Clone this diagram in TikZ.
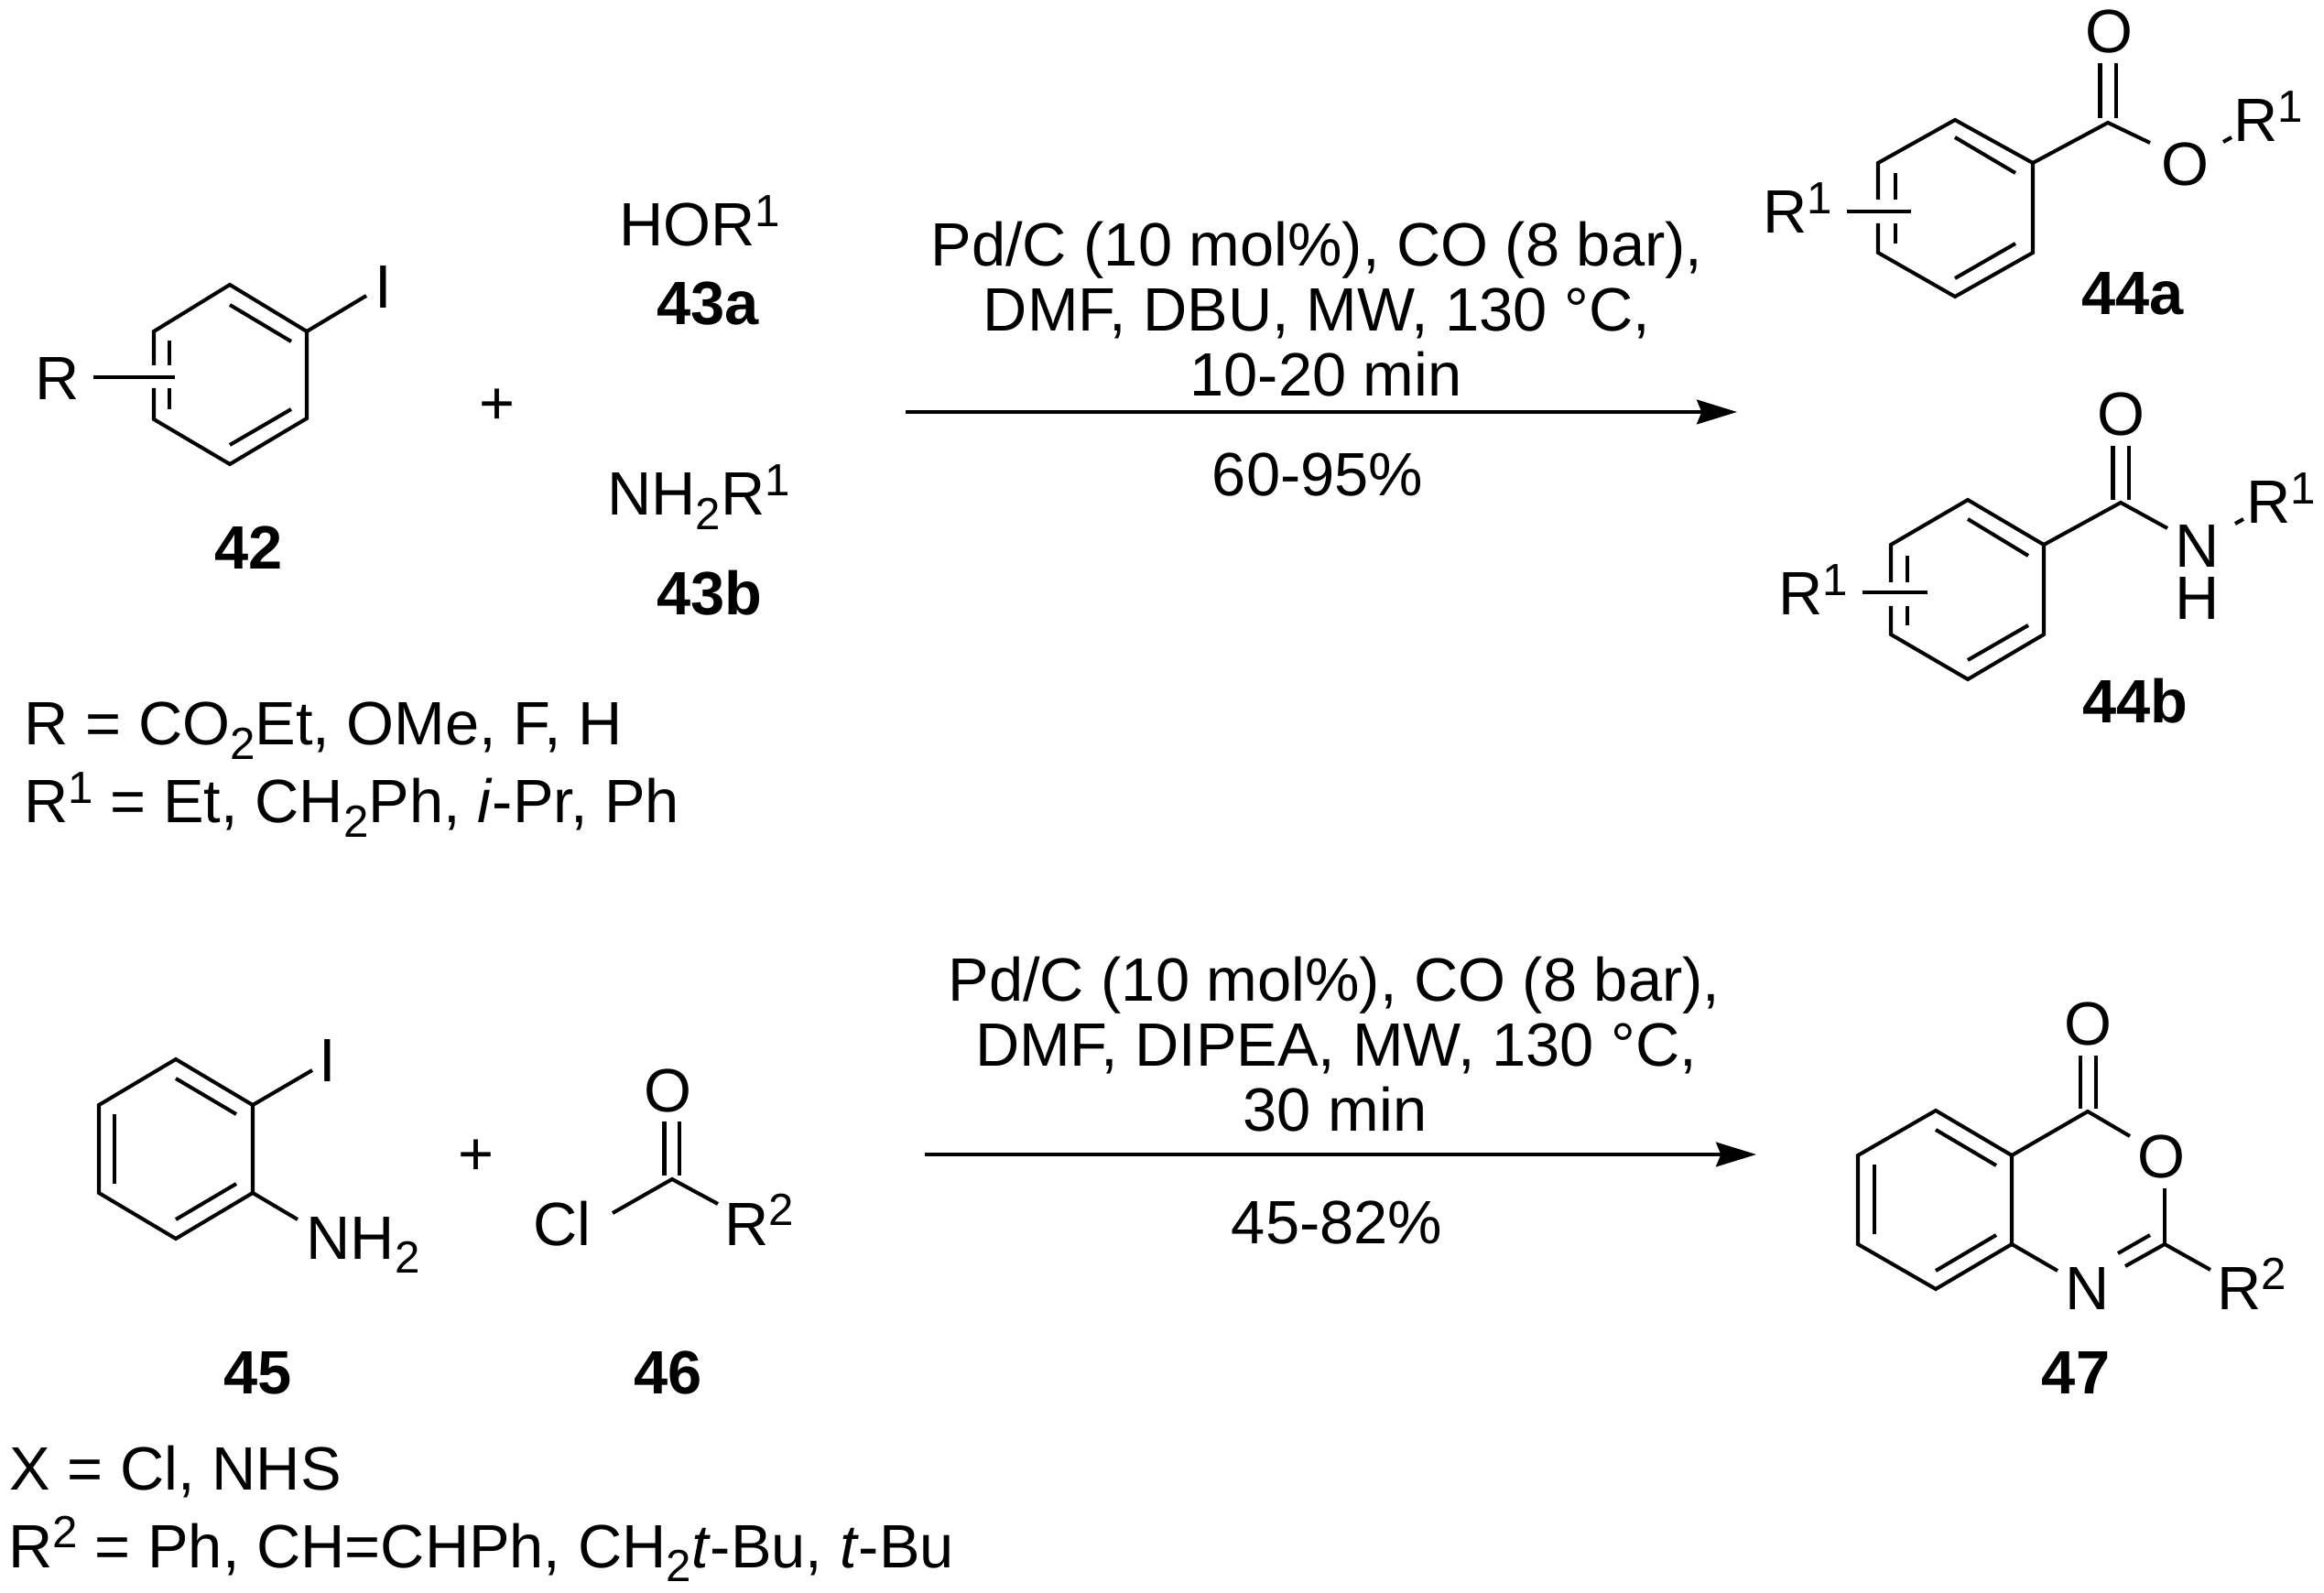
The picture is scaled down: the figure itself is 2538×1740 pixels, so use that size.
\documentclass[tikz,border=0pt]{standalone}
\usepackage{fontspec}
\setmainfont{Liberation Sans}
\usetikzlibrary{arrows.meta}
\newcommand{\supr}[1]{\raisebox{6pt}{\fontsize{14}{14}\selectfont #1}}
\newcommand{\subr}[1]{\raisebox{-4.3pt}{\fontsize{14}{14}\selectfont #1}}
\tikzset{
    bond/.style={line width=1.15pt},
    rxnarrow/.style={line width=1pt,-{Stealth[length=12.5pt,width=7.6pt,inset=1.5pt]}},
    atom/.style={inner sep=0pt,anchor=base,font=\fontsize{19}{20.2}\selectfont},
    atomleft/.style={atom,anchor=base west},
    cpd/.style={atom,font=\fontsize{19}{20.2}\selectfont\bfseries},
}
\begin{document}
\begin{tikzpicture}[x=0.01cm,y=-0.01cm]
    \useasboundingbox (0,0) rectangle (2538,1740);
    % 42
    \draw[bond] (168,399) -- (168,362) -- (251,311) -- (335,362) -- (335,457) -- (251,507) -- (168,458) -- (168,424);
    \draw[bond] (251,333) -- (318,373);
    \draw[bond] (251,486) -- (318,447);
    \draw[bond] (185,372) -- (185,399);
    \draw[bond] (185,424) -- (185,447);
    \draw[bond] (102,412) -- (191,412);
    \draw[bond] (335,362) -- (400,323);
    \node[atom] (r42) at (63,437) {R};
    \node[atom] (i42) at (419,337) {I};
    \node[cpd] (c42) at (272,622) {42};
    \node[atom] (plusa) at (543,464) {+};
    % 43
    \node[atom] (hor) at (764,269) {HOR\supr{1}};
    \node[cpd] (c43a) at (773,355) {43a};
    \node[atom] (nhr) at (763,563) {NH\subr{2}R\supr{1}};
    \node[cpd] (c43b) at (775,672) {43b};
    % conditions of the first reaction
    \node[atom] (conda1) at (1438,291) {Pd/C (10 mol\%), CO (8 bar),};
    \node[atom] (conda2) at (1438,362) {DMF, DBU, MW, 130 °C,};
    \node[atom] (conda3) at (1448,433) {10-20 min};
    \coordinate (arrowa1) at (989,450);
    \coordinate (arrowa2) at (1897,450);
    \draw[rxnarrow] (arrowa1) -- (arrowa2);
    \node[atom] (yielda) at (1439,542) {60-95\%};
    % 44a
    \draw[bond] (2051,218) -- (2051,178) -- (2135,131) -- (2220,178) -- (2220,276) -- (2135,324) -- (2051,276) -- (2051,244);
    \draw[bond] (2135,150) -- (2201,189);
    \draw[bond] (2135,304) -- (2201,266);
    \draw[bond] (2070,189) -- (2070,218);
    \draw[bond] (2070,244) -- (2070,266);
    \draw[bond] (2017,231) -- (2087,231);
    \draw[bond] (2220,178) -- (2302,134) -- (2348,156);
    \draw[bond] (2293.5,69) -- (2293.5,129);
    \draw[bond] (2311,69) -- (2311,129);
    \draw[bond] (2428,155) -- (2437,150);
    \node[atomleft] (r44a) at (1925,255) {R\supr{1}};
    \node[atom] (o44a) at (2303,58) {O};
    \node[atom] (oe44a) at (2386,203) {O};
    \node[atomleft] (rr44a) at (2439,155) {R\supr{1}};
    \node[cpd] (c44a) at (2329,344) {44a};
    % 44b
    \draw[bond] (2065,636) -- (2065,595) -- (2149,546) -- (2232,595) -- (2232,693) -- (2149,742) -- (2065,693) -- (2065,662);
    \draw[bond] (2149,567) -- (2215,607);
    \draw[bond] (2149,721) -- (2215,683);
    \draw[bond] (2083,607) -- (2083,636);
    \draw[bond] (2083,662) -- (2083,683);
    \draw[bond] (2034,647) -- (2105,647);
    \draw[bond] (2232,595) -- (2316,549) -- (2367,577);
    \draw[bond] (2307.5,487) -- (2307.5,546);
    \draw[bond] (2325,487) -- (2325,546);
    \draw[bond] (2441,572) -- (2450,567);
    \node[atomleft] (r44b) at (1942,672) {R\supr{1}};
    \node[atom] (o44b) at (2316,476) {O};
    \node[atom] (n44b) at (2400,620) {N};
    \node[atom] (h44b) at (2400,677) {H};
    \node[atomleft] (rr44b) at (2453,572) {R\supr{1}};
    \node[cpd] (c44b) at (2332,790) {44b};
    % substituents of the first reaction
    \node[atomleft] (suba1) at (26,814) {R = CO\subr{2}Et, OMe, F, H};
    \node[atomleft] (suba2) at (26,899) {R\supr{1} = Et, CH\subr{2}Ph, \textit{i}-Pr, Ph};
    % 45
    \draw[bond] (192,1157) -- (276,1207) -- (276,1303) -- (192,1353) -- (108,1303) -- (108,1207) -- cycle;
    \draw[bond] (192,1178) -- (258,1217);
    \draw[bond] (125,1217) -- (125,1293);
    \draw[bond] (192,1332) -- (258,1293);
    \draw[bond] (276,1207) -- (341,1169);
    \draw[bond] (276,1303) -- (325,1332);
    \node[atom] (i45) at (358,1182) {I};
    \node[atomleft] (nh45) at (334,1375) {NH\subr{2}};
    \node[cpd] (c45) at (282,1522) {45};
    \node[atom] (plusb) at (520,1284) {+};
    % 46
    \draw[bond] (669,1325) -- (734,1288) -- (784,1315);
    \draw[bond] (725.5,1225) -- (725.5,1284);
    \draw[bond] (742,1225) -- (742,1284);
    \node[atom] (o46) at (729,1215) {O};
    \node[atom] (cl46) at (614,1360) {Cl};
    \node[atomleft] (r46) at (791,1360) {R\supr{2}};
    \node[cpd] (c46) at (730,1522) {46};
    % conditions of the second reaction
    \node[atom] (condb1) at (1457,1094) {Pd/C (10 mol\%), CO (8 bar),};
    \node[atom] (condb2) at (1459,1165) {DMF, DIPEA, MW, 130 °C,};
    \node[atom] (condb3) at (1458,1236) {30 min};
    \coordinate (arrowb1) at (1010,1261);
    \coordinate (arrowb2) at (1918,1261);
    \draw[rxnarrow] (arrowb1) -- (arrowb2);
    \node[atom] (yieldb) at (1460,1359) {45-82\%};
    % 47
    \draw[bond] (2114,1213) -- (2197,1262) -- (2197,1359) -- (2114,1408) -- (2029,1359) -- (2029,1262) -- cycle;
    \draw[bond] (2114,1234) -- (2180,1273);
    \draw[bond] (2047,1272) -- (2047,1348);
    \draw[bond] (2114,1388) -- (2180,1349);
    \draw[bond] (2197,1262) -- (2280,1214) -- (2326,1241);
    \draw[bond] (2272,1153) -- (2272,1211);
    \draw[bond] (2289,1153) -- (2289,1211);
    \draw[bond] (2364,1298) -- (2364,1359);
    \draw[bond] (2321,1383) -- (2364,1359) -- (2414,1387);
    \draw[bond] (2313,1369) -- (2348,1349);
    \draw[bond] (2197,1359) -- (2247,1388);
    \node[atom] (o47) at (2280,1142) {O};
    \node[atom] (oe47) at (2360,1287) {O};
    \node[atom] (n47) at (2280,1430) {N};
    \node[atomleft] (r47) at (2421,1430) {R\supr{2}};
    \node[cpd] (c47) at (2267,1522) {47};
    % substituents of the second reaction
    \node[atomleft] (subb1) at (10,1627) {X = Cl, NHS};
    \node[atomleft] (subb2) at (9,1712) {R\supr{2} = Ph, CH=CHPh, CH\subr{2}\textit{t}-Bu, \textit{t}-Bu};
\end{tikzpicture}
\end{document}
